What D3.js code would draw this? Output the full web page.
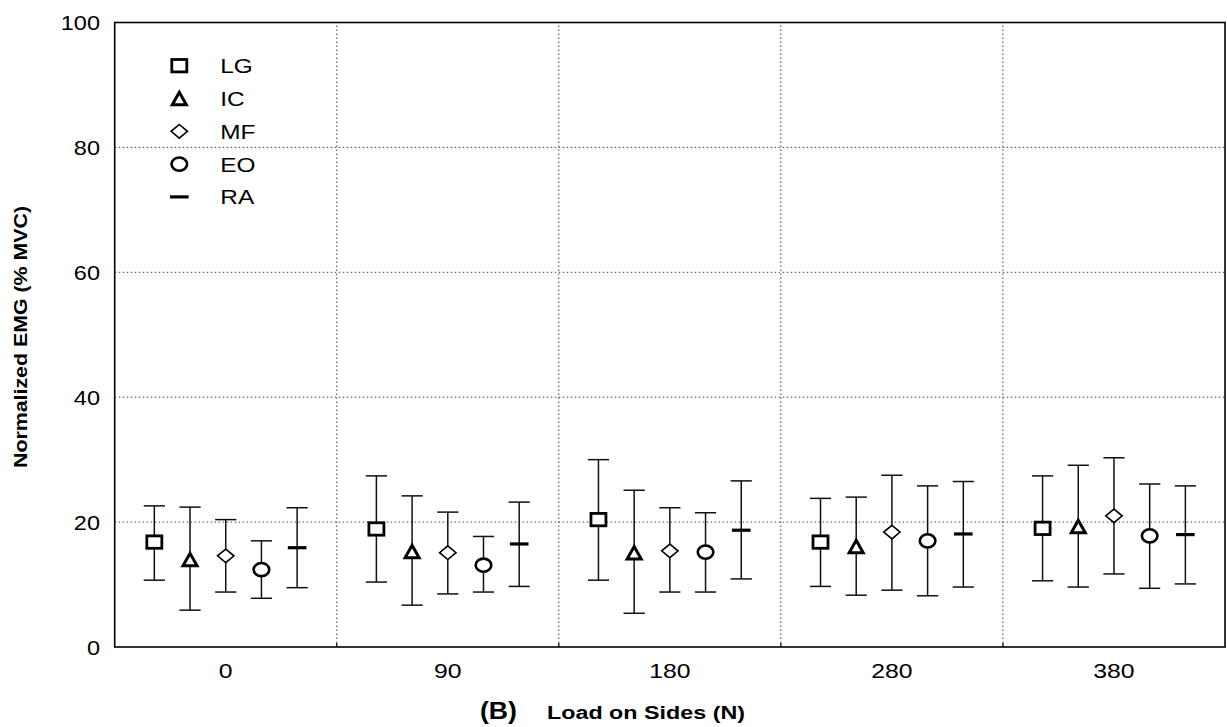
<!DOCTYPE html>
<html>
<head>
<meta charset="utf-8">
<script src="https://cdn.jsdelivr.net/npm/d3@7"></script>
<style>
  body { margin: 0; background: #fff; }
  text { font-family: "Liberation Sans", Arial, sans-serif; fill: #000; }
</style>
</head>
<body>
<script>
// chart data
const categories = ['0', '90', '180', '280', '380']
const series = ['LG', 'IC', 'MF', 'EO', 'RA']
const yTicks = [0, 20, 40, 60, 80, 100]

// mean, lower and upper end of the error bar, per series, one value per category
const means = {
	LG: [16.8, 18.9, 20.4, 16.8, 19.0],
	IC: [14.0, 15.3, 15.1, 16.1, 19.3],
	MF: [14.6, 15.1, 15.4, 18.4, 21.0],
	EO: [12.4, 13.1, 15.2, 17.0, 17.8],
	RA: [15.9, 16.5, 18.7, 18.1, 18.0],
}
const lows = {
	LG: [10.7, 10.4, 10.7, 9.7, 10.6],
	IC: [5.9, 6.7, 5.4, 8.3, 9.6],
	MF: [8.8, 8.5, 8.8, 9.1, 11.7],
	EO: [7.8, 8.8, 8.8, 8.2, 9.4],
	RA: [9.5, 9.7, 10.9, 9.6, 10.1],
}
const highs = {
	LG: [22.6, 27.4, 30.0, 23.8, 27.4],
	IC: [22.4, 24.2, 25.1, 24.0, 29.1],
	MF: [20.4, 21.6, 22.3, 27.5, 30.3],
	EO: [17.0, 17.7, 21.5, 25.8, 26.1],
	RA: [22.3, 23.2, 26.6, 26.5, 25.8],
}

const width = 1227
const height = 727
const margin = { left: 114.7, right: 2, top: 22.5, bottom: 80 }

const svg = d3.select('body').append('svg').attr('width', width).attr('height', height)

const x = d3.scaleBand().domain(categories).range([margin.left, width - margin.right])
const offset = d3.scalePoint().domain(series).range([-71.4, 71.4])
const y = d3.scaleLinear().domain([0, 100]).range([height - margin.bottom, margin.top])

const x0 = margin.left, x1 = width - margin.right
const y0 = y(0), y1 = y(100)

// dotted grid
svg.append('g')
	.selectAll('line')
	.data(yTicks.filter(d => d > 0 && d < 100))
	.join('line')
	.attr('x1', x0).attr('x2', x1)
	.attr('y1', d => y(d)).attr('y2', d => y(d))
	.attr('stroke', '#444').attr('stroke-width', 1).attr('stroke-dasharray', '1.5,2.5')

svg.append('g')
	.selectAll('line')
	.data(categories.slice(1))
	.join('line')
	.attr('x1', d => x(d)).attr('x2', d => x(d))
	.attr('y1', y0).attr('y2', y1)
	.attr('stroke', '#444').attr('stroke-width', 1).attr('stroke-dasharray', '1.5,2.5')

// frame
svg.append('rect')
	.attr('x', x0).attr('y', y1)
	.attr('width', x1 - x0).attr('height', y0 - y1)
	.attr('fill', 'none').attr('stroke', '#000').attr('stroke-width', 1.6)

// small ticks on the bottom axis at the band borders
svg.append('g')
	.selectAll('line')
	.data(categories.slice(1))
	.join('line')
	.attr('x1', d => x(d)).attr('x2', d => x(d))
	.attr('y1', y0).attr('y2', y0 - 4)
	.attr('stroke', '#000').attr('stroke-width', 1.2)

// y tick labels
svg.append('g')
	.selectAll('text')
	.data(yTicks)
	.join('text')
	.attr('transform', d => `translate(100,${y(d) + 7.5}) scale(1.12,1)`)
	.attr('text-anchor', 'end')
	.attr('font-size', 21)
	.text(d => d)

// x tick labels
svg.append('g')
	.selectAll('text')
	.data(categories)
	.join('text')
	.attr('transform', d => `translate(${x(d) + x.bandwidth() / 2},678) scale(1.18,1)`)
	.attr('text-anchor', 'middle')
	.attr('font-size', 21)
	.text(d => d)

// axis titles
svg.append('text')
	.attr('transform', 'translate(27,337) rotate(-90)')
	.attr('text-anchor', 'middle')
	.attr('font-size', 18)
	.attr('font-weight', 'bold')
	.attr('textLength', 262)
	.attr('lengthAdjust', 'spacingAndGlyphs')
	.text('Normalized EMG (% MVC)')

svg.append('text')
	.attr('x', 480).attr('y', 719)
	.attr('font-size', 23)
	.attr('font-weight', 'bold')
	.attr('textLength', 37)
	.attr('lengthAdjust', 'spacingAndGlyphs')
	.text('(B)')

svg.append('text')
	.attr('x', 547).attr('y', 719)
	.attr('font-size', 18)
	.attr('font-weight', 'bold')
	.attr('textLength', 198)
	.attr('lengthAdjust', 'spacingAndGlyphs')
	.text('Load on Sides (N)')

// marker shapes, centred at 0,0
function drawMarker(g, name) {
	if (name === 'LG') {
		g.append('rect').attr('x', -7.5).attr('y', -6.2).attr('width', 15).attr('height', 12.4)
			.attr('fill', '#fff').attr('stroke', '#000').attr('stroke-width', 2.8)
	} else if (name === 'IC') {
		g.append('path').attr('d', 'M0,-6.2L7,6.2L-7,6.2Z')
			.attr('fill', '#fff').attr('stroke', '#000').attr('stroke-width', 3).attr('stroke-linejoin', 'miter')
	} else if (name === 'MF') {
		g.append('path').attr('d', 'M0,-6.8L8.2,0L0,6.8L-8.2,0Z')
			.attr('fill', '#fff').attr('stroke', '#000').attr('stroke-width', 1.6)
	} else if (name === 'EO') {
		g.append('ellipse').attr('rx', 7.8).attr('ry', 6.6)
			.attr('fill', '#fff').attr('stroke', '#000').attr('stroke-width', 2.6)
	} else {
		g.append('line').attr('x1', -9.3).attr('x2', 9.3)
			.attr('stroke', '#000').attr('stroke-width', 3.2)
	}
}

// error bars and means
series.forEach(function (s) {
	const rows = categories.map((c, i) => ({ c: c, mean: means[s][i], lo: lows[s][i], hi: highs[s][i] }))
	const g = svg.append('g')
	const cx = d => x(d.c) + x.bandwidth() / 2 + offset(s)

	g.selectAll('.stem')
		.data(rows)
		.join('line')
		.attr('x1', cx).attr('x2', cx)
		.attr('y1', d => y(d.lo)).attr('y2', d => y(d.hi))
		.attr('stroke', '#111').attr('stroke-width', 1.5)

	g.selectAll('.caps')
		.data(rows.flatMap(d => [{ c: d.c, v: d.lo }, { c: d.c, v: d.hi }]))
		.join('line')
		.attr('x1', d => cx(d) - 10.6).attr('x2', d => cx(d) + 10.6)
		.attr('y1', d => y(d.v)).attr('y2', d => y(d.v))
		.attr('stroke', '#111').attr('stroke-width', 1.5)

	g.selectAll('.mark')
		.data(rows)
		.join('g')
		.attr('transform', d => `translate(${cx(d)},${y(d.mean)})`)
		.each(function () { drawMarker(d3.select(this), s) })
})

// legend
const legend = svg.append('g')
series.forEach(function (s, i) {
	const row = legend.append('g').attr('transform', `translate(179.3,${65.7 + i * 32.8})`)
	drawMarker(row, s)
	row.append('text')
		.attr('transform', 'translate(41,7.5) scale(1.22,1)')
		.attr('font-size', 20)
		.text(s)
})
</script>
</body>
</html>
